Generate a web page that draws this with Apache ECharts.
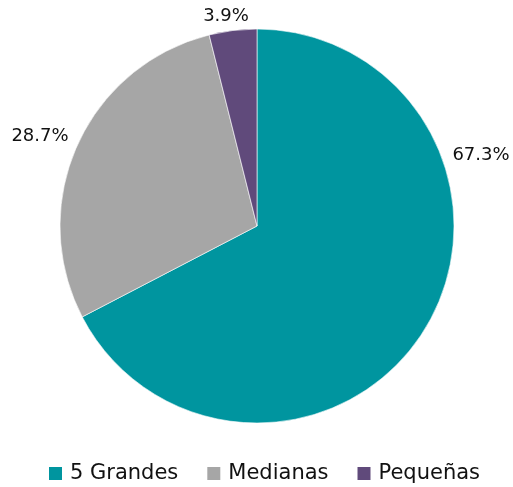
<!DOCTYPE html>
<html><head><meta charset="utf-8">
<script src="https://cdn.jsdelivr.net/npm/echarts@6/dist/echarts.min.js"></script>
<style>html,body{margin:0;padding:0;background:#fff}#c{width:513px;height:487px}</style>
</head><body><div id="c"></div>
<script>
const categories = ['5 Grandes', 'Medianas', 'Pequeñas'];
const values = [67.3, 28.7, 3.9];
const colors = ['#00959F', '#A6A6A6', '#604A7B'];
const labelPos = [[481, 155], [40, 136], [226, 16]];

const chart = echarts.init(document.getElementById('c'));
chart.setOption({
  animation: false,
  color: colors,
  legend: {
    top: 463, left: 47,
    itemWidth: 15, itemHeight: 15, itemGap: 27,
    icon: 'rect',
    padding: 0,
    textStyle: { fontFamily: 'DejaVu Sans', fontSize: 21, color: '#111', padding: [0, 0, 0, 2] },
    data: categories
  },
  series: [{
    type: 'pie',
    center: [257, 226],
    radius: [0, 197],
    startAngle: 90,
    clockwise: true,
    itemStyle: { borderColor: '#fff', borderWidth: 0.6 },
    label: {
      show: true, position: 'outside', overflow: 'none',
      formatter: p => p.value.toFixed(1) + '%',
      fontFamily: 'DejaVu Sans', fontSize: 18, color: '#111'
    },
    labelLine: { show: false },
    labelLayout: p => ({ x: labelPos[p.dataIndex][0], y: labelPos[p.dataIndex][1], align: 'center', verticalAlign: 'middle' }),
    data: categories.map((n, i) => ({ name: n, value: values[i] }))
  }]
});
</script></body></html>
